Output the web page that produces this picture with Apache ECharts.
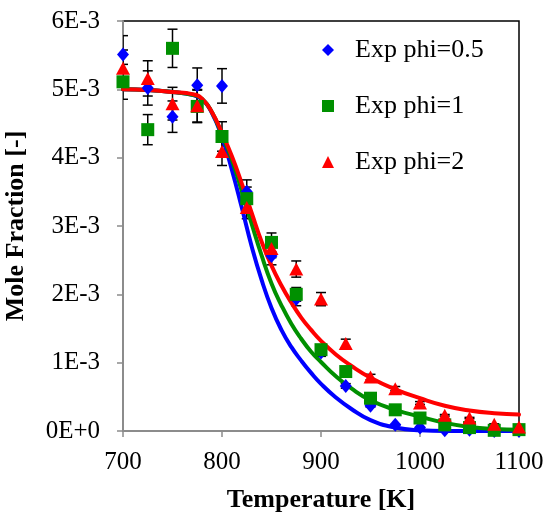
<!DOCTYPE html>
<html>
<head>
<meta charset="utf-8">
<script src="https://cdn.jsdelivr.net/npm/echarts@6/dist/echarts.min.js"></script>
<style>html,body{margin:0;padding:0;background:#fff;}#c{width:548px;height:512px;}</style>
</head>
<body>
<div id="c"></div>
<script>
// Temperatures of experimental points [K]
var temps = [700,725,750,775,800,825,850,875,900,925,950,975,1000,1025,1050,1075,1100];
// Mole fraction, in units of 1E-3
var expPhi05 = [5.51,5.02,4.60,5.06,5.05,3.50,2.56,1.93,1.15,0.66,0.37,0.09,0.05,0.01,0.02,0.00,0.00];
var expPhi1  = [5.11,4.41,5.60,4.75,4.31,3.40,2.76,2.00,1.19,0.87,0.48,0.31,0.19,0.09,0.05,0.01,0.02];
var expPhi2  = [5.31,5.16,4.79,4.76,4.09,3.27,2.67,2.37,1.93,1.28,0.79,0.62,0.41,0.23,0.19,0.10,0.06];
var errFrac = 0.05;
// Model curves
var modelT    = [700,725,750,770,780,790,800,810,820,830,840,850,860,870,880,890,900,915,930,950,975,1000,1025,1050,1075,1100];
var modelPhi05= [5.00,4.99,4.96,4.92,4.85,4.65,4.30,3.82,3.27,2.70,2.21,1.80,1.48,1.23,1.03,0.85,0.69,0.49,0.33,0.16,0.05,0.01,0.00,0.00,0.00,0.00];
var modelPhi1 = [5.00,4.99,4.96,4.92,4.86,4.66,4.33,3.97,3.51,3.03,2.57,2.16,1.84,1.57,1.35,1.16,1.01,0.80,0.63,0.45,0.31,0.21,0.12,0.06,0.03,0.02];
var modelPhi2 = [5.00,4.99,4.96,4.93,4.86,4.66,4.36,4.02,3.62,3.19,2.77,2.42,2.13,1.88,1.66,1.48,1.32,1.12,0.96,0.78,0.61,0.48,0.37,0.30,0.26,0.24];
// Axis ticks
var xTicks = {min:700, max:1100, interval:100};
var yTicks = {min:0, max:6, interval:1};

var FONT = "'Liberation Serif','Times New Roman',serif";
function pairs(xs, ys){ return xs.map(function(x,i){ return [x, ys[i]]; }); }
function errData(xs, ys){ return xs.map(function(x,i){ return [x, ys[i]*(1-errFrac), ys[i]*(1+errFrac)]; }); }
function errRender(params, api){
  var x = api.value(0), lo = api.value(1), hi = api.value(2);
  var pLo = api.coord([x, lo]), pHi = api.coord([x, hi]);
  var hw = 5;
  var st = {stroke:'#000', lineWidth:1.5};
  return {type:'group', children:[
    {type:'line', shape:{x1:pLo[0],y1:pLo[1],x2:pHi[0],y2:pHi[1]}, style:st},
    {type:'line', shape:{x1:pLo[0]-hw,y1:pLo[1],x2:pLo[0]+hw,y2:pLo[1]}, style:st},
    {type:'line', shape:{x1:pHi[0]-hw,y1:pHi[1],x2:pHi[0]+hw,y2:pHi[1]}, style:st}
  ]};
}
var colors = {b:'#0000ff', g:'#009000', r:'#ff0000'};

var chart = echarts.init(document.getElementById('c'), null, {renderer:'canvas'});
var series = [];
[[expPhi05],[expPhi1],[expPhi2]].forEach(function(a, k){
  series.push({type:'custom', name:'err'+k, renderItem:errRender, data:errData(temps, a[0]),
    encode:{x:0, y:[1,2]}, clip:true, z:1, silent:true});
});
[[modelPhi05,colors.b],[modelPhi1,colors.g],[modelPhi2,colors.r]].forEach(function(a, k){
  series.push({type:'line', name:'model'+k, data:pairs(modelT, a[0]), showSymbol:false, symbol:'none',
    smooth:0.5, lineStyle:{color:a[1], width:4, cap:'round', join:'round'}, itemStyle:{color:a[1]}, z:2+k*0.1, silent:true});
});
series.push({type:'scatter', name:'Exp phi=0.5', data:pairs(temps, expPhi05), symbol:'diamond', symbolSize:[12,14],
  itemStyle:{color:colors.b, opacity:1}, z:3});
series.push({type:'scatter', name:'Exp phi=1', data:pairs(temps, expPhi1), symbol:'rect', symbolSize:13,
  itemStyle:{color:colors.g, opacity:1}, z:3.1});
series.push({type:'scatter', name:'Exp phi=2', data:pairs(temps, expPhi2), symbol:'triangle', symbolSize:[14,13],
  itemStyle:{color:colors.r, opacity:1}, z:3.2});

chart.setOption({
  animation:false,
  backgroundColor:'#fff',
  grid:{left:123, right:29, top:21, bottom:81, show:true, borderColor:'#000', borderWidth:1.5,
    backgroundColor:'transparent', containLabel:false, outerBoundsMode:'none'},
  legend:{
    data:['Exp phi=0.5','Exp phi=1','Exp phi=2'],
    orient:'vertical', left:317, top:32, itemWidth:12, itemHeight:12, itemGap:30,
    textStyle:{fontFamily:FONT, fontSize:26, color:'#000', lineHeight:26, padding:[0,0,0,16]},
    selectedMode:false
  },
  xAxis:{type:'value', min:xTicks.min, max:xTicks.max, interval:xTicks.interval,
    name:'Temperature [K]', nameLocation:'middle', nameGap:56,
    nameTextStyle:{fontFamily:FONT, fontSize:26, fontWeight:'bold', color:'#000'},
    axisLine:{show:true, onZero:false, lineStyle:{color:'#8c8c8c', width:2}},
    axisTick:{show:true, inside:false, length:6, lineStyle:{color:'#8c8c8c', width:1.5}},
    axisLabel:{fontFamily:FONT, fontSize:25, color:'#000', margin:19,
      formatter:function(v){ return String(v); }},
    splitLine:{show:false}},
  yAxis:{type:'value', min:yTicks.min, max:yTicks.max, interval:yTicks.interval,
    name:'Mole Fraction [-]', nameLocation:'middle', nameGap:94,
    nameTextStyle:{fontFamily:FONT, fontSize:26, fontWeight:'bold', color:'#000'},
    axisLine:{show:true, onZero:false, lineStyle:{color:'#8c8c8c', width:2}},
    axisTick:{show:true, inside:false, length:6, lineStyle:{color:'#8c8c8c', width:1.5}},
    axisLabel:{fontFamily:FONT, fontSize:25, color:'#000', margin:23,
      formatter:function(v){ return v === 0 ? '0E+0' : v + 'E-3'; }},
    splitLine:{show:false}},
  series:series
});
</script>
</body>
</html>
